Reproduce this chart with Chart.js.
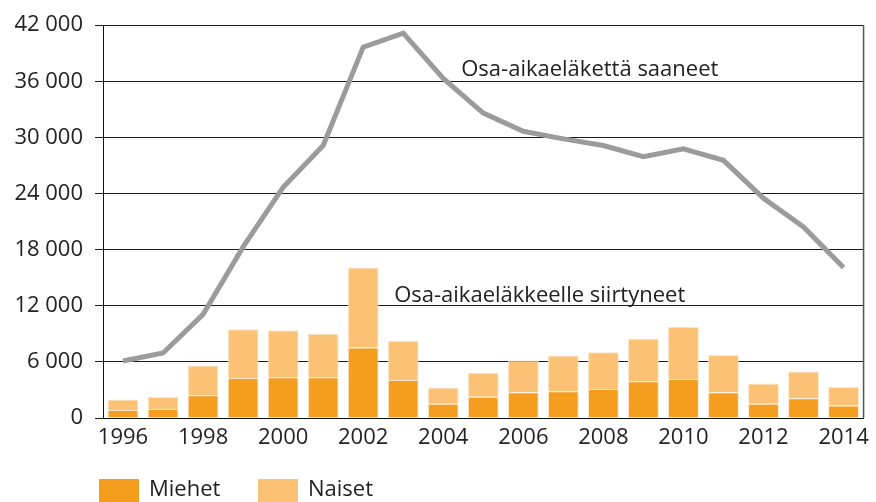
<!DOCTYPE html>
<html>
<head>
<meta charset="utf-8">
<script src="https://cdn.jsdelivr.net/npm/chart.js@4.4.1/dist/chart.umd.min.js"></script>
<style>
  html, body { margin: 0; padding: 0; background: #fff; overflow: hidden; }
  canvas { display: block; }
</style>
</head>
<body>
<canvas id="chart" width="876" height="502"></canvas>
<script>
// --- DATA ---
const vuodet = ['1996','1997','1998','1999','2000','2001','2002','2003','2004','2005',
                '2006','2007','2008','2009','2010','2011','2012','2013','2014'];

// Osa-aikaeläkkeelle siirtyneet (pinottu)
const miehet = [850, 950, 2430, 4270, 4370, 4370, 7550, 4060, 1520, 2260,
                2750, 2860, 3100, 3920, 4160, 2750, 1520, 2120, 1340];
const naiset = [1130, 1300, 3180, 5220, 5010, 4630, 8530, 4160, 1730, 2570,
                3390, 3810, 3920, 4580, 5610, 3990, 2180, 2850, 1970];

// Osa-aikaeläkettä saaneet
const saaneet = [6100, 6950, 11080, 18300, 24660, 29130, 39650, 41160, 36300, 32600,
                 30660, 29850, 29130, 27940, 28780, 27550, 23490, 20420, 16100];

const yMax = 42000;
const yStep = 3000;

const FONT = '"Open Sans", "DejaVu Sans", sans-serif';
const TEXT = '#222';

function muotoile(v) {
    return String(v).replace(/\B(?=(\d{3})+(?!\d))/g, ' ');
}

// tekstit ja selite piirretään itse
const omatTekstit = {
    id: 'omatTekstit',
    afterDraw(chart) {
        const ctx = chart.ctx;
        const x = chart.scales.x;
        const y = chart.scales.y;
        const area = chart.chartArea;

        // oikea reuna
        ctx.save();
        ctx.strokeStyle = '#555';
        ctx.lineWidth = 1.5;
        ctx.beginPath();
        ctx.moveTo(area.right, area.top);
        ctx.lineTo(area.right, area.bottom);
        ctx.stroke();

        ctx.fillStyle = TEXT;
        ctx.font = '22px ' + FONT;
        ctx.textAlign = 'left';
        ctx.textBaseline = 'alphabetic';
        ctx.fillText('Osa-aikaeläkettä saaneet', x.getPixelForValue(8) + 18, y.getPixelForValue(36600));
        ctx.fillText('Osa-aikaeläkkeelle siirtyneet', x.getPixelForValue(6) + 31, y.getPixelForValue(12400));

        // selite
        const items = chart.data.datasets.filter(d => d.type === 'bar');
        let lx = 99;
        const ly = 479;
        items.forEach(d => {
            ctx.fillStyle = d.backgroundColor;
            ctx.fillRect(lx, ly, 40, 24);
            ctx.fillStyle = TEXT;
            ctx.textBaseline = 'top';
            ctx.fillText(d.label, lx + 50, ly);
            lx += 159;
        });
        ctx.restore();
    }
};

new Chart(document.getElementById('chart'), {
    data: {
        labels: vuodet,
        datasets: [
            {
                type: 'line',
                label: 'Osa-aikaeläkettä saaneet',
                data: saaneet,
                borderColor: '#9b9b9b',
                borderWidth: 5,
                pointRadius: 0,
                tension: 0,
                stack: 'viiva',
                order: 0
            },
            {
                type: 'bar',
                label: 'Miehet',
                data: miehet,
                backgroundColor: '#F59D1F',
                borderColor: '#FDE7C8',
                borderWidth: 1,
                stack: 'pylvas',
                categoryPercentage: 1,
                barPercentage: 0.77,
                order: 1
            },
            {
                type: 'bar',
                label: 'Naiset',
                data: naiset,
                backgroundColor: '#FBC174',
                borderColor: '#FDE7C8',
                borderWidth: 1,
                stack: 'pylvas',
                categoryPercentage: 1,
                barPercentage: 0.77,
                order: 1
            }
        ]
    },
    options: {
        responsive: false,
        animation: false,
        devicePixelRatio: 1,
        layout: { padding: { top: 21, right: 11, left: 0, bottom: 0 } },
        plugins: {
            legend: { display: false },
            tooltip: { enabled: false }
        },
        scales: {
            x: {
                stacked: true,
                grid: { display: false, drawTicks: false },
                border: { display: true, color: '#111', width: 1 },
                ticks: {
                    autoSkip: false,
                    maxRotation: 0,
                    padding: 7,
                    color: TEXT,
                    font: { family: FONT, size: 22 },
                    callback: (v, i) => (i % 2 === 0 ? vuodet[i] : '')
                },
                afterFit: s => { s.height = 84; }
            },
            y: {
                stacked: true,
                min: 0,
                max: yMax,
                grid: { color: '#1a1a1a', lineWidth: 1, drawTicks: true, tickLength: 8 },
                border: { display: true, color: '#111', width: 1 },
                ticks: {
                    stepSize: yStep,
                    padding: 12,
                    color: TEXT,
                    font: { family: FONT, size: 22 },
                    callback: v => (v % 6000 === 0 ? muotoile(v) : '')
                },
                afterFit: s => { s.width = 103; }
            }
        }
    },
    plugins: [omatTekstit]
});
</script>
</body>
</html>
